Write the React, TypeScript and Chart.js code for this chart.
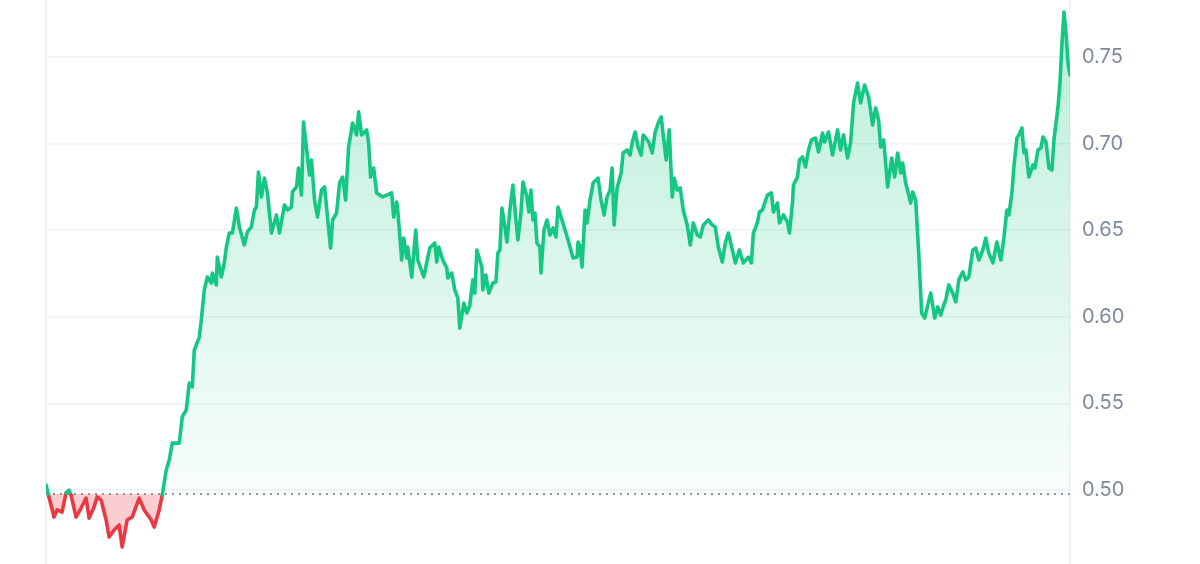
import React, { useEffect, useRef } from "react";
import { Chart, registerables } from "chart.js";

Chart.register(...registerables);

// sample step along the time axis (0 = first sample)
const times = [
  0, 3, 8, 11, 16, 20, 23, 25, 30, 35, 40, 43, 48, 51, 55, 60, 63, 68, 73, 76,
  81, 86, 93, 98, 105, 108, 113, 116, 120, 123, 126, 133, 136, 140, 143, 146,
  148, 153, 155, 158, 161, 165, 166, 170, 171, 175, 178, 180, 183, 186, 190,
  193, 198, 201, 205, 208, 210, 212, 215, 218, 221, 225, 230, 233, 238, 241,
  245, 246, 250, 252, 255, 257, 261, 263, 265, 268, 271, 275, 278, 284, 286,
  290, 293, 296, 299, 302, 306, 310, 312, 315, 320, 322, 324, 327, 330, 336,
  340, 345, 347, 350, 351, 355, 357, 360, 361, 365, 369, 371, 377, 383, 388,
  390, 392, 396, 400, 401, 405, 408, 411, 413, 417, 420, 423, 426, 428, 430,
  435, 436, 439, 442, 446, 449, 451, 453, 455, 458, 460, 463, 466, 469, 471,
  474, 476, 480, 482, 484, 486, 488, 490, 493, 494, 497, 500, 503, 506, 509,
  511, 515, 521, 523, 526, 530, 531, 533, 535, 538, 540, 543, 546, 551, 554,
  557, 560, 563, 565, 567, 570, 574, 576, 580, 583, 585, 588, 591, 594, 596,
  600, 602, 605, 608, 611, 614, 616, 619, 622, 625, 627, 630, 633, 636, 640,
  643, 646, 650, 653, 656, 661, 665, 668, 671, 675, 678, 681, 685, 688, 692,
  696, 701, 704, 706, 710, 712, 715, 720, 724, 726, 730, 732, 736, 740, 742,
  745, 746, 750, 752, 755, 758, 761, 764, 768, 771, 775, 777, 781, 785, 790,
  793, 796, 800, 803, 806, 810, 813, 817, 821, 825, 828, 831, 833, 836, 840,
  844, 847, 850, 853, 855, 858, 863, 865, 868, 871, 874, 877, 880, 883, 887,
  890, 893, 896, 898, 901, 905, 908, 911, 915, 918, 921, 925, 928, 931, 935,
  938, 941, 945, 949, 953, 956, 959, 961, 964, 966, 969, 971, 974, 976, 978,
  981, 985, 987, 990, 993, 995, 998, 1001, 1004, 1006, 1010, 1012, 1014, 1016,
  1018, 1020, 1022,
];

const prices = [
  0.5029, 0.496, 0.4844, 0.4885, 0.4873, 0.4983, 0.5, 0.4971, 0.4844, 0.4896,
  0.4954, 0.4838, 0.4902, 0.496, 0.4942, 0.4827, 0.4729, 0.4769, 0.4798, 0.4671,
  0.4827, 0.4844, 0.4954, 0.4885, 0.4827, 0.4786, 0.4885, 0.4971, 0.5115,
  0.5173, 0.5271, 0.5271, 0.5422, 0.5462, 0.5618, 0.5595, 0.5808, 0.5883,
  0.5982, 0.6155, 0.623, 0.6195, 0.6253, 0.6184, 0.6345, 0.623, 0.6311, 0.6403,
  0.6484, 0.6484, 0.6628, 0.6519, 0.6415, 0.649, 0.6519, 0.6617, 0.6634, 0.6836,
  0.6692, 0.6801, 0.6715, 0.6484, 0.6588, 0.6484, 0.6646, 0.6617, 0.6634,
  0.6721, 0.675, 0.6859, 0.6703, 0.7125, 0.6923, 0.6819, 0.6905, 0.6674, 0.6576,
  0.6732, 0.675, 0.6397, 0.6559, 0.6599, 0.6773, 0.6807, 0.6674, 0.698, 0.7119,
  0.705, 0.7183, 0.705, 0.7079, 0.7004, 0.6807, 0.6859, 0.6715, 0.6692, 0.6703,
  0.6715, 0.6576, 0.6663, 0.6617, 0.6328, 0.6455, 0.634, 0.6403, 0.623, 0.6501,
  0.6328, 0.623, 0.6397, 0.6426, 0.6316, 0.6403, 0.6328, 0.6282, 0.6224, 0.6253,
  0.6155, 0.6109, 0.5935, 0.608, 0.6022, 0.6068, 0.6213, 0.6137, 0.6386, 0.6288,
  0.6155, 0.6241, 0.6137, 0.6195, 0.6201, 0.6368, 0.6386, 0.6628, 0.6519,
  0.6432, 0.6617, 0.6761, 0.6559, 0.6444, 0.6599, 0.6778, 0.6692, 0.6605,
  0.6732, 0.6559, 0.6599, 0.6426, 0.6403, 0.6253, 0.6501, 0.6559, 0.6472,
  0.6513, 0.6461, 0.6634, 0.6559, 0.6444, 0.6403, 0.634, 0.6345, 0.6432, 0.6403,
  0.6288, 0.6617, 0.6542, 0.6674, 0.6773, 0.6801, 0.6674, 0.6588, 0.6692,
  0.6732, 0.6859, 0.653, 0.6744, 0.683, 0.6946, 0.6963, 0.6934, 0.7004, 0.7067,
  0.698, 0.6934, 0.705, 0.7021, 0.7004, 0.6946, 0.7067, 0.7119, 0.7154, 0.705,
  0.6905, 0.7079, 0.6692, 0.6801, 0.6732, 0.6744, 0.6617, 0.653, 0.6415, 0.6542,
  0.6472, 0.6461, 0.653, 0.6559, 0.653, 0.6519, 0.6403, 0.6316, 0.6426, 0.6484,
  0.6386, 0.6311, 0.6386, 0.6311, 0.6345, 0.6311, 0.6484, 0.6542, 0.6605,
  0.6617, 0.6703, 0.6715, 0.6605, 0.6657, 0.6542, 0.6588, 0.6547, 0.6484,
  0.6657, 0.6761, 0.6807, 0.6905, 0.6923, 0.6865, 0.6963, 0.7021, 0.7032,
  0.6952, 0.7061, 0.7009, 0.7067, 0.6934, 0.7079, 0.6963, 0.705, 0.6917, 0.7004,
  0.7235, 0.735, 0.7235, 0.7338, 0.7269, 0.7107, 0.7206, 0.7136, 0.698, 0.7021,
  0.675, 0.6917, 0.6807, 0.6946, 0.683, 0.6888, 0.6773, 0.6657, 0.6721, 0.6674,
  0.6368, 0.6022, 0.5993, 0.6068, 0.6137, 0.5993, 0.6057, 0.601, 0.6068, 0.6097,
  0.6184, 0.6137, 0.6086, 0.6213, 0.6259, 0.6213, 0.623, 0.6386, 0.6397, 0.6328,
  0.6386, 0.6455, 0.6368, 0.6311, 0.6432, 0.6328, 0.6455, 0.6617, 0.6588,
  0.6715, 0.6865, 0.7032, 0.705, 0.709, 0.6946, 0.6963, 0.6807, 0.6877, 0.6859,
  0.6963, 0.6975, 0.7038, 0.7009, 0.6859, 0.6848, 0.7021, 0.7211, 0.735, 0.7581,
  0.776, 0.7639, 0.7465, 0.7396,
];

const yTicks = [0.5, 0.55, 0.6, 0.65, 0.7, 0.75];
const baseline = 0.4977;

const GREEN = "#16c784";
const RED = "#ea3943";
const GRID = "#eff2f5";

const App = () => {
  const canvasRef = useRef<HTMLCanvasElement>(null);

  useEffect(() => {
    if (!canvasRef.current) return;
    const points = times.map((t, i) => ({ x: t, y: prices[i] }));

    const chart = new Chart(canvasRef.current, {
      type: "line",
      data: {
        datasets: [
          {
            data: points,
            borderWidth: 3.6,
            borderColor: GREEN,
            borderJoinStyle: "round",
            borderCapStyle: "round",
            pointRadius: 0,
            tension: 0,
            segment: {
              borderColor: (c: any) =>
                (c.p0.parsed.y + c.p1.parsed.y) / 2 < baseline ? RED : GREEN,
            },
            backgroundColor: (c: any) => {
              const ch = c.chart;
              const area = ch.chartArea;
              if (!area) return "rgba(22,199,132,0.15)";
              const g = ch.ctx.createLinearGradient(
                0,
                area.top,
                0,
                ch.scales.y.getPixelForValue(baseline)
              );
              g.addColorStop(0, "rgba(22,199,132,0.3)");
              g.addColorStop(1, "rgba(22,199,132,0.03)");
              return g;
            },
            fill: {
              target: { value: baseline },
              below: "rgba(234,57,67,0.25)",
            },
          },
          {
            // dotted opening-price line
            data: [
              { x: times[0], y: baseline },
              { x: times[times.length - 1], y: baseline },
            ],
            borderColor: "#8f98ab",
            borderWidth: 2,
            borderDash: [2, 5],
            pointRadius: 0,
            fill: false,
          },
        ],
      },
      options: {
        animation: false,
        responsive: true,
        maintainAspectRatio: false,
        layout: { padding: { left: 46, top: 0, right: 0, bottom: 0 } },
        plugins: {
          legend: { display: false },
          tooltip: { enabled: false },
        },
        scales: {
          x: {
            type: "linear",
            min: times[0],
            max: times[times.length - 1],
            ticks: { display: false },
            border: { display: false },
            grid: {
              drawTicks: false,
              lineWidth: 2,
              color: (c: any) => (c.index === 0 ? GRID : "transparent"),
            },
            afterFit: (s: any) => {
              s.height = 0;
              s.paddingLeft = 0;
              s.paddingRight = 0;
            },
          },
          y: {
            position: "right",
            min: 0.4573,
            max: 0.7829,
            afterBuildTicks: (s: any) => {
              s.ticks = yTicks.map((v) => ({ value: v }));
            },
            afterFit: (s: any) => {
              s.width = 130;
              s.paddingTop = 0;
              s.paddingBottom = 0;
            },
            border: { display: true, color: GRID, width: 1.5 },
            grid: { color: GRID, lineWidth: 1.5, drawTicks: false },
            ticks: {
              padding: 12,
              color: "#808a9d",
              font: { family: "Inter", size: 20 },
              callback: (v: any) => Number(v).toFixed(2),
            },
          },
        },
      },
    });

    return () => {
      chart.destroy();
    };
  }, []);

  return (
    <div
      style={{
        position: "absolute",
        left: 0,
        top: 0,
        width: 1200,
        height: 564,
        background: "#fff",
      }}
    >
      <canvas ref={canvasRef}></canvas>
    </div>
  );
};

export default App;
